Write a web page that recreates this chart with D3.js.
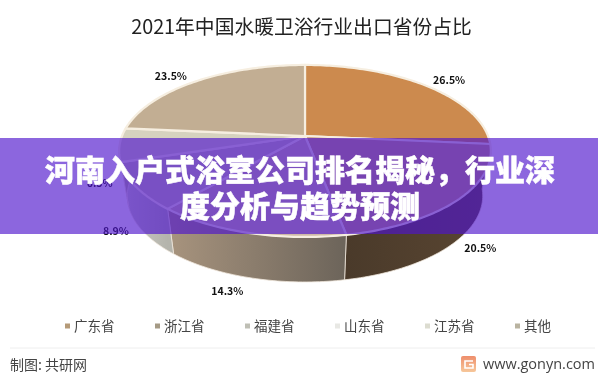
<!DOCTYPE html>
<html>
<head>
<meta charset="utf-8">
<script src="https://cdn.jsdelivr.net/npm/d3@7"></script>
<style>
  html, body { margin: 0; padding: 0; background: #fff; }
  svg { display: block; filter: blur(0.3px); }
  text { font-family: "Noto Sans CJK SC", "Noto Sans", sans-serif; }
</style>
</head>
<body>
<div id="chart"></div>
<script>
const title = "2021年中国水暖卫浴行业出口省份占比";
const banner_lines = ["河南入户式浴室公司排名揭秘，行业深", "度分析与趋势预测"];
const provinces = ["广东省", "浙江省", "福建省", "山东省", "江苏省", "其他"];
// shares in clockwise order starting at 12 o'clock
const shares = [26.5, 20.5, 14.3, 8.9, 6.3, 23.5];
const top_colors = ["#cc8a4e", "#c49a7e", "#cfbaa8", "#c9bfb5", "#d6d2bf", "#c2ae93"];
const side_from = ["#4a3828", "#4a3a2a", "#a8947e", "#cfcfc8", "#c9c2ae", "#a8947e"];
const side_to = ["#6a4c30", "#5a4632", "#6c645a", "#b4b4ac", "#b8b2a0", "#a8947e"];
const legend_colors = ["#b59a78", "#a59a85", "#bfbfb5", "#e8e8e4", "#dcdcd0", "#b9b3a0"];
const footer_left = "制图: 共研网";
const footer_right = "www.gonyn.com";

const dim = { width: 598, height: 373 };
// disc drawn with a perspective: far half looks shorter than near half
const disc = { cx: 305, cy: 136, a: 183, b: 83.4, k: 0.174 };
const base = { cx: 305, cy: 181, a: 175, b: 83.4, k: 0.174 };

function project(angle, d) {
  const x = Math.sin(angle), y = -Math.cos(angle), w = 1 - d.k * y;
  return [d.cx + d.a * x / w, d.cy + d.b * y / w];
}

function edge(start, end, d) {
  const n = Math.max(2, Math.ceil((end - start) / 0.02));
  return d3.range(n + 1).map(i => project(start + (end - start) * i / n, d));
}

const svg = d3.select("#chart").append("svg")
  .attr("width", dim.width).attr("height", dim.height);
const defs = svg.append("defs");
const line = d3.line();
const arcs = d3.pie().sort(null)(shares);

svg.append("text").attr("x", 301.5).attr("y", 33.5)
  .attr("text-anchor", "middle").attr("font-size", 19.8).attr("fill", "#222")
  .text(title);

const pie_g = svg.append("g").attr("class", "pie");

// side wall, only the near half can be seen
arcs.forEach((d, i) => {
  const start = Math.max(d.startAngle, Math.PI / 2 - 0.2),
    end = Math.min(d.endAngle, Math.PI * 1.5 + 0.2);
  if (end <= start) return;
  const top_edge = edge(start, end, disc), low_edge = edge(start, end, base).reverse();
  const xs = top_edge.map(p => p[0]);
  const grad = defs.append("linearGradient").attr("id", "side" + i)
    .attr("gradientUnits", "userSpaceOnUse")
    .attr("x1", d3.min(xs)).attr("x2", d3.max(xs)).attr("y1", 0).attr("y2", 0);
  grad.append("stop").attr("offset", 0).attr("stop-color", side_from[i]);
  grad.append("stop").attr("offset", 1).attr("stop-color", side_to[i]);
  pie_g.append("path")
    .attr("d", line(top_edge.concat(low_edge)) + "Z")
    .attr("fill", "url(#side" + i + ")")
    .attr("stroke", "#efe6da").attr("stroke-width", 0.8);
});

// top face
pie_g.selectAll("path.top").data(arcs).enter().append("path")
  .attr("class", "top")
  .attr("d", d => line([[disc.cx, disc.cy]].concat(edge(d.startAngle, d.endAngle, disc))) + "Z")
  .attr("fill", (d, i) => top_colors[i])
  .attr("stroke", "#f6eee0").attr("stroke-width", 2.2).attr("stroke-linejoin", "round");

// value labels, placed relative to the edge point at the middle of the slice
const label_shift = [[23, -5], [22, 49], [-21, 58], [-20, 45], [-20, 39], [-25, -5]];
svg.selectAll("text.value").data(arcs).enter().append("text")
  .attr("class", "value")
  .attr("transform", (d, i) => {
    const p = project((d.startAngle + d.endAngle) / 2, disc);
    return "translate(" + (p[0] + label_shift[i][0]) + "," + (p[1] + label_shift[i][1]) + ")";
  })
  .attr("text-anchor", "middle").attr("dy", "0.35em")
  .attr("font-size", 10.5).attr("font-weight", 700).attr("fill", "#111")
  .text(d => d.value.toFixed(1) + "%");

// legend
const legend_x = d3.scaleBand().domain(provinces).range([65, 605]);
const legend = svg.selectAll("g.legend").data(provinces).enter().append("g")
  .attr("class", "legend")
  .attr("transform", d => "translate(" + legend_x(d) + ",326)");
legend.append("rect").attr("x", 0).attr("y", -2.5).attr("width", 5).attr("height", 5)
  .attr("fill", (d, i) => legend_colors[i]);
legend.append("text").attr("x", 9).attr("dy", "0.36em")
  .attr("font-size", 13.5).attr("fill", "#444").text(d => d);

// footer
svg.append("line").attr("x1", 10).attr("x2", 595).attr("y1", 348).attr("y2", 348)
  .attr("stroke", "#eeeeee");
svg.append("text").attr("x", 10).attr("y", 370).attr("font-size", 14).attr("fill", "#444")
  .text(footer_left);
const logo_grad = defs.append("linearGradient").attr("id", "logo")
  .attr("x1", 0).attr("x2", 0).attr("y1", 0).attr("y2", 1);
logo_grad.append("stop").attr("offset", 0).attr("stop-color", "#ee8e6c");
logo_grad.append("stop").attr("offset", 1).attr("stop-color", "#f6c79a");
svg.append("rect").attr("x", 461).attr("y", 356).attr("width", 15).attr("height", 16)
  .attr("rx", 2).attr("fill", "url(#logo)");
svg.append("path").attr("d", "M473 361H465V368H473V364.5H469")
  .attr("fill", "none").attr("stroke", "#fff").attr("stroke-width", 1.6);
svg.append("text").attr("x", 595).attr("y", 369).attr("text-anchor", "end")
  .attr("font-size", 14.5).attr("fill", "#444")
  .style("font-family", '"Open Sans", sans-serif').text(footer_right);

// banner across the middle
svg.append("rect").attr("x", 0).attr("y", 138).attr("width", dim.width).attr("height", 96)
  .attr("fill", "rgb(78,20,204)").attr("fill-opacity", 0.65);
svg.selectAll("text.banner").data(banner_lines).enter().append("text")
  .attr("class", "banner")
  .attr("x", 300).attr("y", (d, i) => 181 + i * 36)
  .attr("text-anchor", "middle").attr("font-size", 30).attr("font-weight", 900)
  .attr("fill", "#fff").attr("stroke", "#fff").attr("stroke-width", 0.5).text(d => d);
</script>
</body>
</html>
